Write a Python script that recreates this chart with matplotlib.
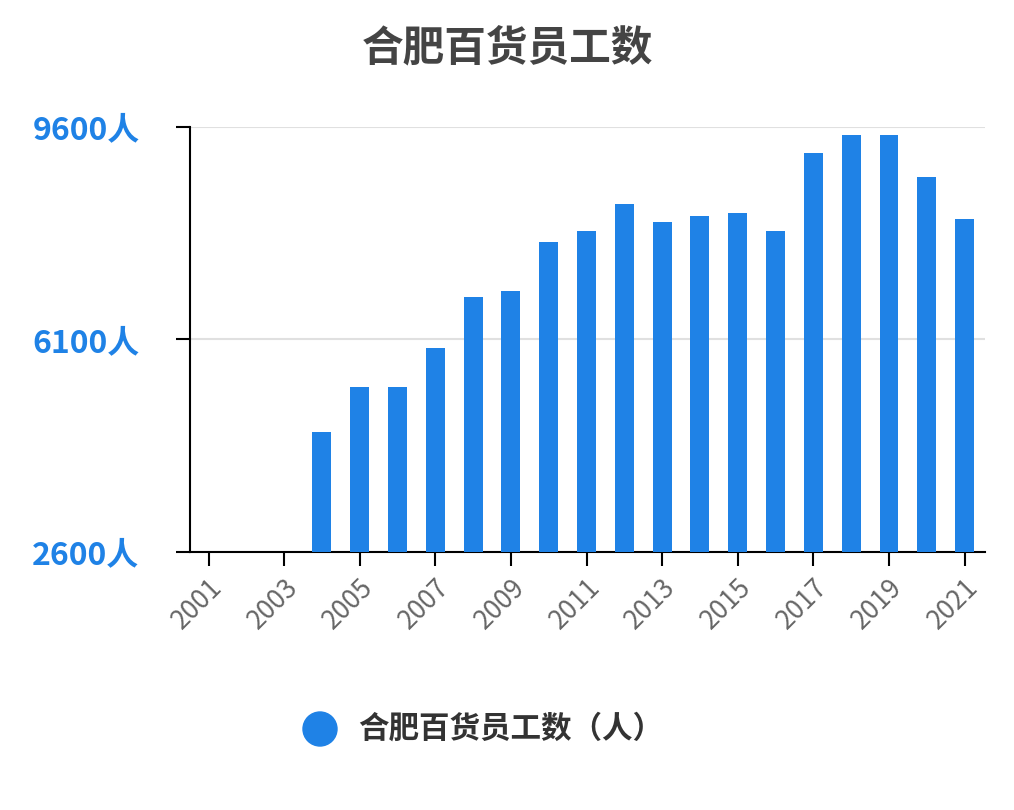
import matplotlib
matplotlib.use("Agg")
import matplotlib.pyplot as plt
import numpy as np

plt.rcParams['font.family'] = ['Noto Sans CJK SC', 'DejaVu Sans']

years = list(range(2001, 2022))
values = [np.nan, np.nan, np.nan, 4580, 5320, 5320, 5960, 6800, 6900, 7710, 7890,
          8330, 8040, 8130, 8180, 7890, 9170, 9470, 9470, 8780, 8090]
yticks = [2600, 6100, 9600]
ytick_labels = ["2600人", "6100人", "9600人"]
title = "合肥百货员工数"
legend_label = "合肥百货员工数（人）"
color = "#1f82e6"

fig = plt.figure(figsize=(10.14, 8.1), dpi=100)
ax = fig.add_axes([0.187, 0.319, 0.784, 0.524])
v = np.array(values, dtype=float)
ax.bar(years, np.nan_to_num(v - 2600, nan=0), bottom=2600, width=0.5, color=color, zorder=3)
ax.set_ylim(2600, 9600)
ax.set_xlim(2000.5, 2021.53)
ax.set_yticks(yticks)
ax.set_yticklabels(ytick_labels, color=color, fontsize=23, fontweight='bold')
ax.set_xticks(years[::2])
ax.set_xticklabels([str(y) for y in years[::2]], rotation=45, ha='right', rotation_mode='anchor',
                   fontsize=19, color='#666666')
ax.grid(axis='y', color='#e0e0e0', linewidth=1.5, zorder=0)
for s in ['top', 'right']:
    ax.spines[s].set_visible(False)
ax.spines['left'].set_linewidth(1.5)
ax.spines['bottom'].set_linewidth(1.5)
ax.tick_params(axis='y', length=10, width=1.5, pad=26)
ax.tick_params(axis='x', length=10, width=1.5, pad=6)
fig.text(0.5, 0.94, title, ha='center', va='center', fontsize=30, fontweight='bold', color='#444444')
fig.patches.append(matplotlib.patches.Ellipse((320/1014, 1-729/810), 34/1014, 34/810,
                   transform=fig.transFigure, color=color))
fig.text(358/1014, 1-729/810, legend_label, ha='left', va='center', fontsize=22, fontweight='bold', color='#333333')
fig.savefig("out.png", dpi=100)
